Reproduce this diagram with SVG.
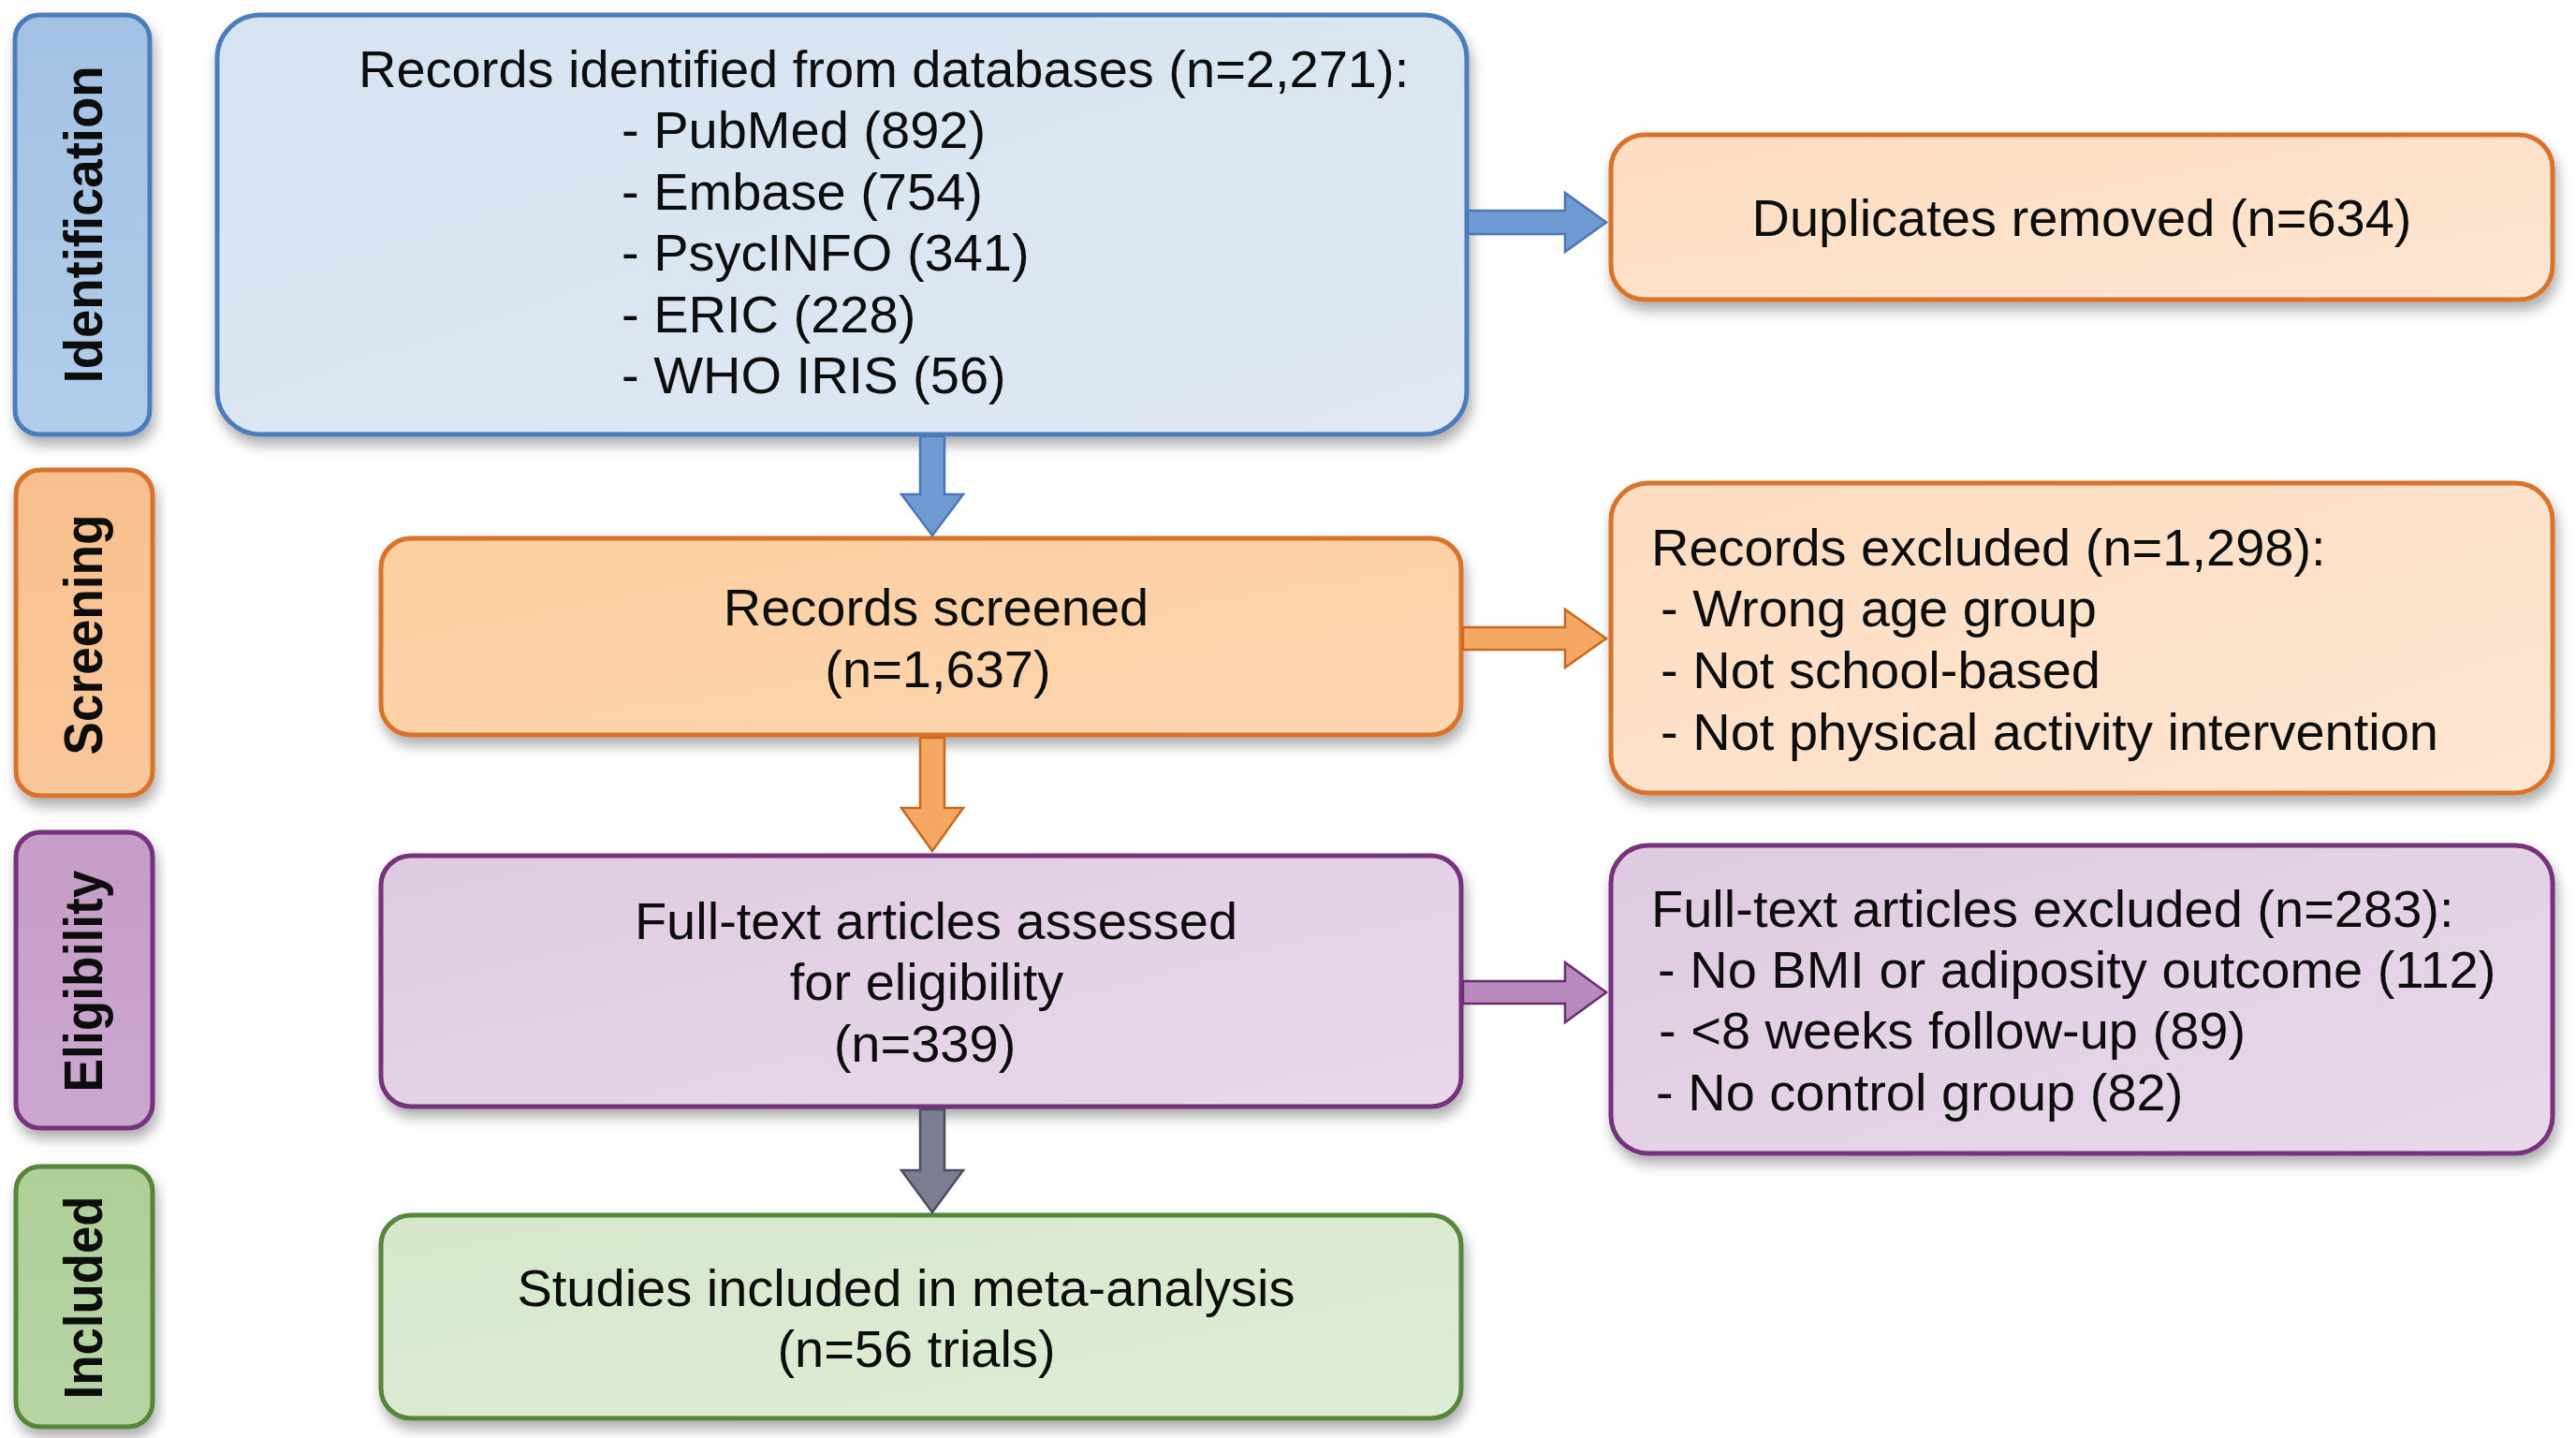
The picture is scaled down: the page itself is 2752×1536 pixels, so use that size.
<svg xmlns="http://www.w3.org/2000/svg" width="2752" height="1536" viewBox="0 0 2752 1536">
<defs>
<filter id="sh" x="-10%" y="-10%" width="120%" height="130%">
<feDropShadow dx="3" dy="9" stdDeviation="7" flood-color="#000" flood-opacity="0.32"/>
</filter>
<linearGradient id="gBlueS" x1="0" y1="0" x2="0" y2="1"><stop offset="0" stop-color="#a3c1e4"/><stop offset="1" stop-color="#b2cdea"/></linearGradient>
<linearGradient id="gBlue" x1="0" y1="0" x2="1" y2="1"><stop offset="0" stop-color="#d6e3f1"/><stop offset="1" stop-color="#dfe8f3"/></linearGradient>
<linearGradient id="gOrS" x1="0" y1="0" x2="0" y2="1"><stop offset="0" stop-color="#f8c08e"/><stop offset="1" stop-color="#fac79a"/></linearGradient>
<linearGradient id="gOrM" x1="0" y1="0" x2="1" y2="1"><stop offset="0" stop-color="#fcce9f"/><stop offset="1" stop-color="#fdd6b0"/></linearGradient>
<linearGradient id="gOrL" x1="0" y1="0" x2="1" y2="1"><stop offset="0" stop-color="#fddcbf"/><stop offset="1" stop-color="#fde6d3"/></linearGradient>
<linearGradient id="gPuS" x1="0" y1="0" x2="0" y2="1"><stop offset="0" stop-color="#c59dc8"/><stop offset="1" stop-color="#cba7ce"/></linearGradient>
<linearGradient id="gPu" x1="0" y1="0" x2="1" y2="1"><stop offset="0" stop-color="#dfcbe1"/><stop offset="1" stop-color="#e8d8ea"/></linearGradient>
<linearGradient id="gGrS" x1="0" y1="0" x2="0" y2="1"><stop offset="0" stop-color="#aecf98"/><stop offset="1" stop-color="#b7d5a4"/></linearGradient>
<linearGradient id="gGr" x1="0" y1="0" x2="1" y2="1"><stop offset="0" stop-color="#d6e7cb"/><stop offset="1" stop-color="#dfecd6"/></linearGradient>
</defs>
<style>
.blue{stroke:#4c7cbb;stroke-width:5}
.orange{stroke:#d9722a;stroke-width:5}
.purple{stroke:#76307c;stroke-width:5}
.green{stroke:#55863b;stroke-width:5}
.t{font-family:"Liberation Sans",Arial,sans-serif;font-size:56px;fill:#111}
.c{text-anchor:middle}
.lab{font-family:"Liberation Sans",Arial,sans-serif;font-weight:bold;font-size:58px;fill:#111;text-anchor:middle}
.arr{stroke-width:2.5;stroke-linejoin:miter}
</style>
<rect width="2752" height="1536" fill="#ffffff"/>

<g id="side-identification" filter="url(#sh)">
<rect x="16" y="16" width="144" height="448" rx="26" fill="url(#gBlueS)" class="blue"/>
<text class="lab" transform="translate(88,240) rotate(-90)" y="21" textLength="339" lengthAdjust="spacingAndGlyphs">Identification</text>
</g>
<g id="side-screening" filter="url(#sh)">
<rect x="17" y="502" width="146" height="348" rx="26" fill="url(#gOrS)" class="orange"/>
<text class="lab" transform="translate(88,678) rotate(-90)" y="21" textLength="257" lengthAdjust="spacingAndGlyphs">Screening</text>
</g>
<g id="side-eligibility" filter="url(#sh)">
<rect x="17" y="889" width="146" height="316" rx="26" fill="url(#gPuS)" class="purple"/>
<text class="lab" transform="translate(88,1048) rotate(-90)" y="21" textLength="237" lengthAdjust="spacingAndGlyphs">Eligibility</text>
</g>
<g id="side-included" filter="url(#sh)">
<rect x="17" y="1246" width="146" height="278" rx="26" fill="url(#gGrS)" class="green"/>
<text class="lab" transform="translate(88,1386) rotate(-90)" y="21" textLength="217" lengthAdjust="spacingAndGlyphs">Included</text>
</g>

<g id="node-identified" filter="url(#sh)">
<rect x="232" y="16" width="1335" height="448" rx="46" fill="url(#gBlue)" class="blue"/>
<text class="t" x="383" y="93">Records identified from databases (n=2,271):</text>
<text class="t" x="664" y="158">- PubMed (892)</text>
<text class="t" x="664" y="224">- Embase (754)</text>
<text class="t" x="664" y="289">- PsycINFO (341)</text>
<text class="t" x="664" y="355">- ERIC (228)</text>
<text class="t" x="664" y="420">- WHO IRIS (56)</text>
</g>
<g id="node-duplicates" filter="url(#sh)">
<rect x="1721" y="144" width="1006" height="176" rx="36" fill="url(#gOrL)" class="orange"/>
<text class="t c" x="2224" y="252">Duplicates removed (n=634)</text>
</g>
<g id="node-screened" filter="url(#sh)">
<rect x="407" y="575" width="1154" height="210" rx="32" fill="url(#gOrM)" class="orange"/>
<text class="t c" x="1000" y="668">Records screened</text>
<text class="t c" x="1002" y="734">(n=1,637)</text>
</g>
<g id="node-excluded" filter="url(#sh)">
<rect x="1721" y="516" width="1006" height="331" rx="40" fill="url(#gOrL)" class="orange"/>
<text class="t" x="1764" y="604">Records excluded (n=1,298):</text>
<text class="t" x="1774" y="669"> - Wrong age group</text>
<text class="t" x="1774" y="735"> - Not school-based</text>
<text class="t" x="1774" y="801"> - Not physical activity intervention</text>
</g>
<g id="node-fulltext" filter="url(#sh)">
<rect x="407" y="914" width="1154" height="268" rx="32" fill="url(#gPu)" class="purple"/>
<text class="t c" x="1000" y="1003">Full-text articles assessed</text>
<text class="t c" x="990" y="1068">for eligibility</text>
<text class="t c" x="988" y="1134">(n=339)</text>
</g>
<g id="node-ftexcluded" filter="url(#sh)">
<rect x="1721" y="903" width="1006" height="329" rx="40" fill="url(#gPu)" class="purple"/>
<text class="t" x="1764" y="990">Full-text articles excluded (n=283):</text>
<text class="t" x="1771" y="1055"> - No BMI or adiposity outcome (112)</text>
<text class="t" x="1772" y="1120"> - &lt;8 weeks follow-up (89)</text>
<text class="t" x="1769" y="1186">- No control group (82)</text>
</g>
<g id="node-included" filter="url(#sh)">
<rect x="407" y="1298" width="1154" height="217" rx="32" fill="url(#gGr)" class="green"/>
<text class="t c" x="968" y="1395">Studies included in meta-analysis</text>
<text class="t c" x="979" y="1460">(n=56 trials)</text>
</g>

<g id="connectors">
<path class="arr" fill="#6f9bd2" stroke="#4a78b6" d="M1568,225 H1672 V206 L1716,237.5 L1672,269 V250 H1568 Z"/>
<path class="arr" fill="#f5a764" stroke="#c8691f" d="M1563,670 H1672 V651 L1716,682 L1672,713 V694 H1563 Z"/>
<path class="arr" fill="#b88abd" stroke="#6a2c70" d="M1563,1048 H1672 V1028 L1716,1060 L1672,1092 V1072 H1563 Z"/>
<path class="arr" fill="#6f9bd2" stroke="#4a78b6" d="M983,466 V528 H963 L996,572 L1029,528 H1009 V466 Z"/>
<path class="arr" fill="#f5a764" stroke="#c8691f" d="M983,788 V863 H963 L996,909 L1029,863 H1009 V788 Z"/>
<path class="arr" fill="#7b7d90" stroke="#4c4e60" d="M983,1185 V1250 H963 L996,1295 L1029,1250 H1009 V1185 Z"/>
</g>
</svg>
